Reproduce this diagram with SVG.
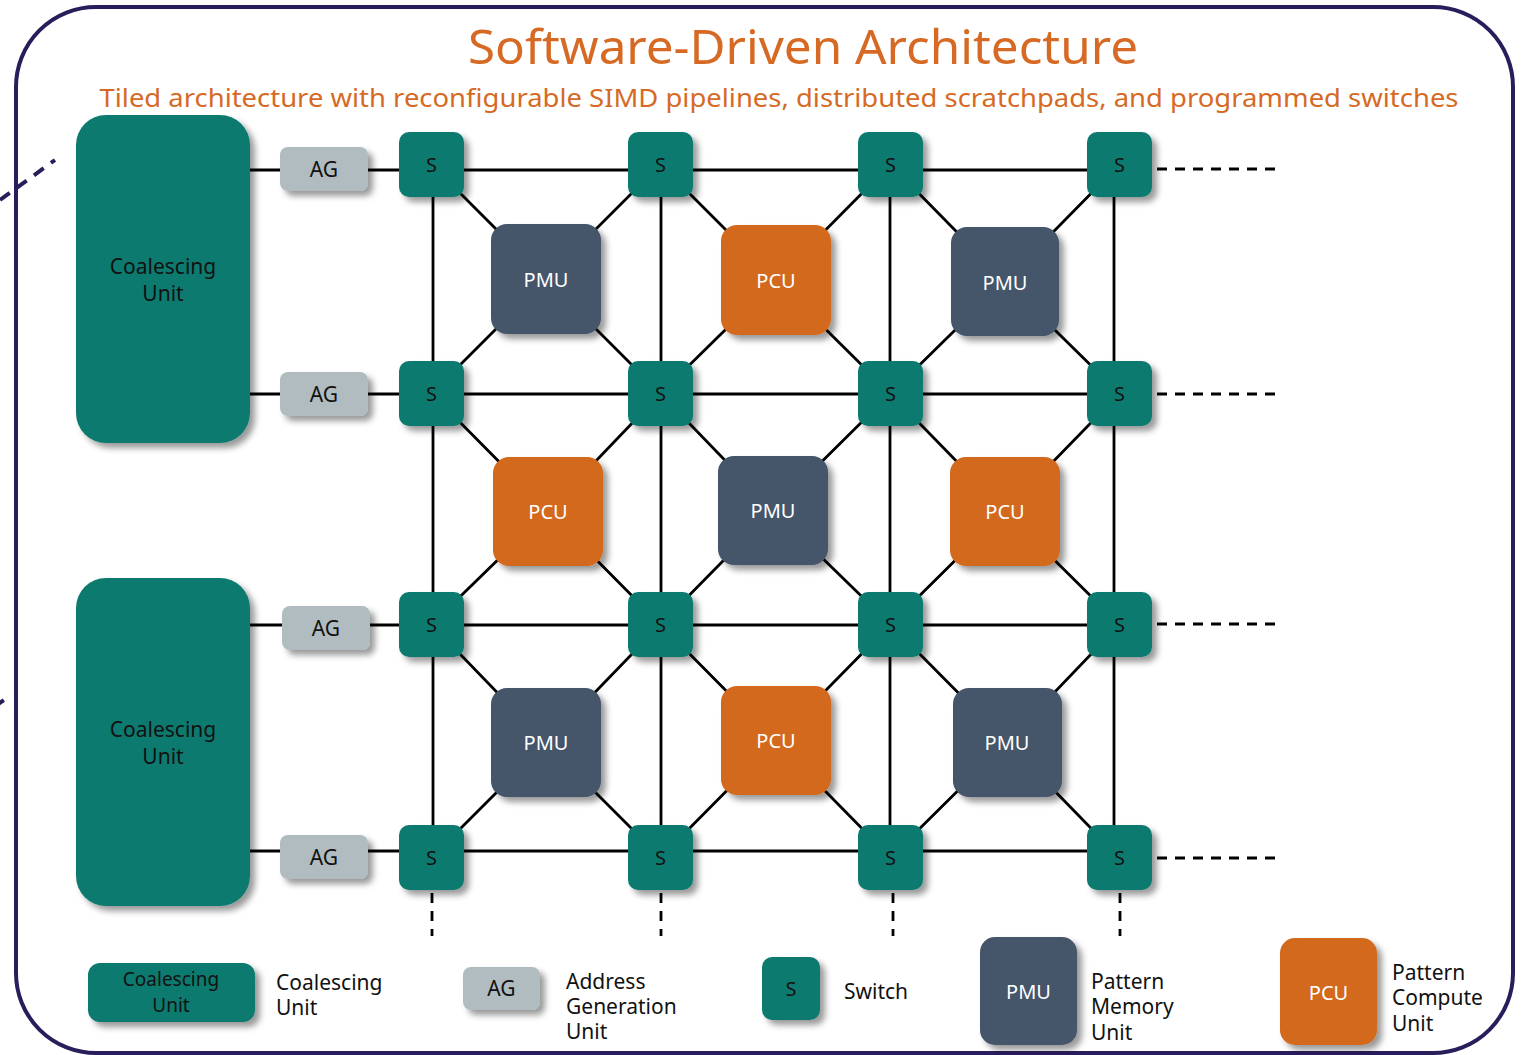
<svg xmlns="http://www.w3.org/2000/svg" width="1529" height="1055" viewBox="0 0 1529 1055">
  <defs>
    <filter id="shadow" x="-20%" y="-20%" width="150%" height="150%">
      <feDropShadow dx="5" dy="5" stdDeviation="3" flood-color="#000" flood-opacity="0.4"/>
    </filter>
    <style>
      text { font-family: "Noto Sans", "DejaVu Sans", sans-serif; }
      .frame { fill: #fff; stroke: #2a1d5c; stroke-width: 4; }
      .frame-dash { stroke: #2a1d5c; stroke-width: 4; stroke-dasharray: 12 9; fill: none; }
      .title { fill: #d66a24; font-size: 48px; text-anchor: middle; }
      .subtitle { fill: #d66a24; font-size: 25px; text-anchor: middle; }
      .wire { stroke: #000; stroke-width: 2.8; fill: none; }
      .wire-dash { stroke: #000; stroke-width: 2.8; fill: none; stroke-dasharray: 10 8; }
      .cu { fill: #117a70; filter: url(#shadow); }
      .ag { fill: #b0bcc0; filter: url(#shadow); }
      .sw { fill: #117a70; filter: url(#shadow); }
      .pmu { fill: #44546b; filter: url(#shadow); }
      .pcu { fill: #d2691f; filter: url(#shadow); }
      .lbl-dark { fill: #111; font-size: 21px; text-anchor: middle; }
      .lbl-cu { fill: #111; font-size: 19px; text-anchor: middle; }
      .lbl-light { fill: #fff; font-size: 20px; text-anchor: middle; }
      .lbl-s { fill: #111; font-size: 20px; text-anchor: middle; }
      .legend { fill: #111; font-size: 21px; }
    </style>
  </defs>

  <!-- outer frame -->
  <rect class="frame" x="16" y="7" width="1497" height="1046" rx="80"/>
  <line class="frame-dash" x1="0" y1="200" x2="55" y2="160"/>
  <line class="frame-dash" x1="-6" y1="707" x2="4" y2="700"/>

  <!-- heading -->
  <text class="title" x="803" y="64" textLength="670" lengthAdjust="spacingAndGlyphs">Software-Driven Architecture</text>
  <text class="subtitle" x="779" y="107" textLength="1359" lengthAdjust="spacingAndGlyphs">Tiled architecture with reconfigurable SIMD pipelines, distributed scratchpads, and programmed switches</text>

  <!-- interconnect -->
  <g id="connectors">
    <!-- row buses -->
    <line class="wire" x1="250" y1="170" x2="1120" y2="170"/>
    <line class="wire" x1="250" y1="394" x2="1120" y2="394"/>
    <line class="wire" x1="250" y1="625" x2="1120" y2="625"/>
    <line class="wire" x1="250" y1="851" x2="1120" y2="851"/>
    <!-- column buses -->
    <line class="wire" x1="433" y1="165" x2="433" y2="858"/>
    <line class="wire" x1="661" y1="165" x2="661" y2="858"/>
    <line class="wire" x1="890" y1="165" x2="890" y2="858"/>
    <line class="wire" x1="1114" y1="165" x2="1114" y2="858"/>
    <!-- continuation -->
    <line class="wire-dash" x1="1157" y1="169" x2="1282" y2="169"/>
    <line class="wire-dash" x1="1157" y1="394" x2="1282" y2="394"/>
    <line class="wire-dash" x1="1157" y1="624" x2="1282" y2="624"/>
    <line class="wire-dash" x1="1157" y1="858" x2="1282" y2="858"/>
    <line class="wire-dash" x1="432" y1="893" x2="432" y2="936"/>
    <line class="wire-dash" x1="661" y1="893" x2="661" y2="936"/>
    <line class="wire-dash" x1="893" y1="893" x2="893" y2="936"/>
    <line class="wire-dash" x1="1120" y1="893" x2="1120" y2="936"/>
    <!-- switch-to-tile links -->
    <path class="wire" d="M431.5 164.5 L546 279 L660.5 164.5 M431.5 393.5 L546 279 L660.5 393.5"/>
    <path class="wire" d="M660.5 164.5 L776 280 L890.5 164.5 M660.5 393.5 L776 280 L890.5 393.5"/>
    <path class="wire" d="M890.5 164.5 L1005 281 L1119.5 164.5 M890.5 393.5 L1005 281 L1119.5 393.5"/>
    <path class="wire" d="M431.5 393.5 L548 511 L660.5 393.5 M431.5 624.5 L548 511 L660.5 624.5"/>
    <path class="wire" d="M660.5 393.5 L773 510 L890.5 393.5 M660.5 624.5 L773 510 L890.5 624.5"/>
    <path class="wire" d="M890.5 393.5 L1005 511 L1119.5 393.5 M890.5 624.5 L1005 511 L1119.5 624.5"/>
    <path class="wire" d="M431.5 624.5 L546 743 L660.5 624.5 M431.5 857.5 L546 743 L660.5 857.5"/>
    <path class="wire" d="M660.5 624.5 L776 741 L890.5 624.5 M660.5 857.5 L776 741 L890.5 857.5"/>
    <path class="wire" d="M890.5 624.5 L1007 742 L1119.5 624.5 M890.5 857.5 L1007 742 L1119.5 857.5"/>
  </g>

  <!-- coalescing units -->
  <g id="cu-top"><rect class="cu" x="76" y="115" width="174" height="328" rx="30"/>
    <text class="lbl-dark" x="163" y="274">Coalescing</text><text class="lbl-dark" x="163" y="301">Unit</text></g>
  <g id="cu-bottom"><rect class="cu" x="76" y="578" width="174" height="328" rx="30"/>
    <text class="lbl-dark" x="163" y="737">Coalescing</text><text class="lbl-dark" x="163" y="764">Unit</text></g>

  <!-- address generators -->
  <g id="ag-1"><rect class="ag" x="280" y="147" width="88" height="44" rx="8"/><text class="lbl-dark" x="324" y="177">AG</text></g>
  <g id="ag-2"><rect class="ag" x="280" y="372" width="88" height="44" rx="8"/><text class="lbl-dark" x="324" y="402">AG</text></g>
  <g id="ag-3"><rect class="ag" x="282" y="606" width="88" height="44" rx="8"/><text class="lbl-dark" x="326" y="636">AG</text></g>
  <g id="ag-4"><rect class="ag" x="280" y="835" width="88" height="44" rx="8"/><text class="lbl-dark" x="324" y="865">AG</text></g>

  <!-- tiles -->
  <g id="pmu-a1"><rect class="pmu" x="491" y="224" width="110" height="110" rx="16"/><text class="lbl-light" x="546" y="287">PMU</text></g>
  <g id="pcu-a2"><rect class="pcu" x="721" y="225" width="110" height="110" rx="16"/><text class="lbl-light" x="776" y="288">PCU</text></g>
  <g id="pmu-a3"><rect class="pmu" x="951" y="227" width="108" height="109" rx="16"/><text class="lbl-light" x="1005" y="290">PMU</text></g>
  <g id="pcu-b1"><rect class="pcu" x="493" y="457" width="110" height="109" rx="16"/><text class="lbl-light" x="548" y="519">PCU</text></g>
  <g id="pmu-b2"><rect class="pmu" x="718" y="456" width="110" height="109" rx="16"/><text class="lbl-light" x="773" y="518">PMU</text></g>
  <g id="pcu-b3"><rect class="pcu" x="950" y="457" width="110" height="109" rx="16"/><text class="lbl-light" x="1005" y="519">PCU</text></g>
  <g id="pmu-c1"><rect class="pmu" x="491" y="688" width="110" height="109" rx="16"/><text class="lbl-light" x="546" y="750">PMU</text></g>
  <g id="pcu-c2"><rect class="pcu" x="721" y="686" width="110" height="109" rx="16"/><text class="lbl-light" x="776" y="748">PCU</text></g>
  <g id="pmu-c3"><rect class="pmu" x="953" y="688" width="109" height="109" rx="16"/><text class="lbl-light" x="1007" y="750">PMU</text></g>

  <!-- switches -->
  <g id="s-1-1"><rect class="sw" x="399" y="132" width="65" height="65" rx="10"/><text class="lbl-s" x="431.5" y="172">S</text></g>
  <g id="s-1-2"><rect class="sw" x="628" y="132" width="65" height="65" rx="10"/><text class="lbl-s" x="660.5" y="172">S</text></g>
  <g id="s-1-3"><rect class="sw" x="858" y="132" width="65" height="65" rx="10"/><text class="lbl-s" x="890.5" y="172">S</text></g>
  <g id="s-1-4"><rect class="sw" x="1087" y="132" width="65" height="65" rx="10"/><text class="lbl-s" x="1119.5" y="172">S</text></g>
  <g id="s-2-1"><rect class="sw" x="399" y="361" width="65" height="65" rx="10"/><text class="lbl-s" x="431.5" y="401">S</text></g>
  <g id="s-2-2"><rect class="sw" x="628" y="361" width="65" height="65" rx="10"/><text class="lbl-s" x="660.5" y="401">S</text></g>
  <g id="s-2-3"><rect class="sw" x="858" y="361" width="65" height="65" rx="10"/><text class="lbl-s" x="890.5" y="401">S</text></g>
  <g id="s-2-4"><rect class="sw" x="1087" y="361" width="65" height="65" rx="10"/><text class="lbl-s" x="1119.5" y="401">S</text></g>
  <g id="s-3-1"><rect class="sw" x="399" y="592" width="65" height="65" rx="10"/><text class="lbl-s" x="431.5" y="632">S</text></g>
  <g id="s-3-2"><rect class="sw" x="628" y="592" width="65" height="65" rx="10"/><text class="lbl-s" x="660.5" y="632">S</text></g>
  <g id="s-3-3"><rect class="sw" x="858" y="592" width="65" height="65" rx="10"/><text class="lbl-s" x="890.5" y="632">S</text></g>
  <g id="s-3-4"><rect class="sw" x="1087" y="592" width="65" height="65" rx="10"/><text class="lbl-s" x="1119.5" y="632">S</text></g>
  <g id="s-4-1"><rect class="sw" x="399" y="825" width="65" height="65" rx="10"/><text class="lbl-s" x="431.5" y="865">S</text></g>
  <g id="s-4-2"><rect class="sw" x="628" y="825" width="65" height="65" rx="10"/><text class="lbl-s" x="660.5" y="865">S</text></g>
  <g id="s-4-3"><rect class="sw" x="858" y="825" width="65" height="65" rx="10"/><text class="lbl-s" x="890.5" y="865">S</text></g>
  <g id="s-4-4"><rect class="sw" x="1087" y="825" width="65" height="65" rx="10"/><text class="lbl-s" x="1119.5" y="865">S</text></g>

  <!-- key -->
  <g id="key-cu"><rect class="cu" x="88" y="963" width="167" height="59" rx="12"/>
    <text class="lbl-cu" x="171" y="986">Coalescing</text><text class="lbl-cu" x="171" y="1012">Unit</text>
    <text class="legend" x="276" y="990">Coalescing</text><text class="legend" x="276" y="1015">Unit</text></g>
  <g id="key-ag"><rect class="ag" x="463" y="967" width="77" height="43" rx="8"/>
    <text class="lbl-dark" x="501.5" y="996">AG</text>
    <text class="legend" x="566" y="989">Address</text><text class="legend" x="566" y="1014">Generation</text><text class="legend" x="566" y="1039">Unit</text></g>
  <g id="key-s"><rect class="sw" x="762" y="957" width="58" height="63" rx="10"/>
    <text class="lbl-s" x="791" y="996">S</text>
    <text class="legend" x="844" y="999">Switch</text></g>
  <g id="key-pmu"><rect class="pmu" x="980" y="937" width="97" height="108" rx="15"/>
    <text class="lbl-light" x="1028.5" y="999">PMU</text>
    <text class="legend" x="1091" y="989">Pattern</text><text class="legend" x="1091" y="1014">Memory</text><text class="legend" x="1091" y="1040">Unit</text></g>
  <g id="key-pcu"><rect class="pcu" x="1280" y="938" width="97" height="107" rx="15"/>
    <text class="lbl-light" x="1328.5" y="1000">PCU</text>
    <text class="legend" x="1392" y="980">Pattern</text><text class="legend" x="1392" y="1005">Compute</text><text class="legend" x="1392" y="1031">Unit</text></g>
</svg>
